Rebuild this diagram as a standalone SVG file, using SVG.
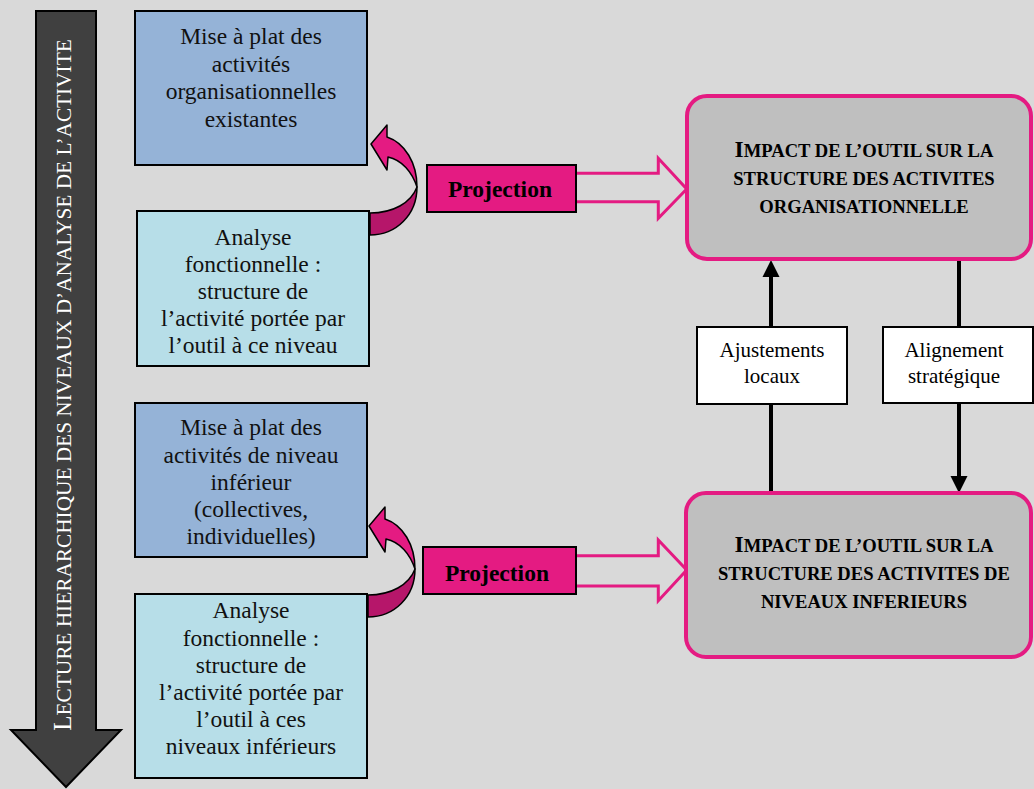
<svg xmlns="http://www.w3.org/2000/svg" width="1034" height="789" viewBox="0 0 1034 789" font-family="Liberation Serif, serif">
<defs>
<style>
.bg{fill:#D9D9D9}
.box{stroke:#000;stroke-width:2}
.blue{fill:#95B3D7}
.lblue{fill:#B7DEE8}
.t{font-size:23.5px;fill:#111;text-anchor:middle}
.proj{fill:#E41B82;stroke:#000;stroke-width:2}
.pt{font-size:23.5px;font-weight:bold;fill:#000;text-anchor:middle}
.hollow{fill:#D9D9D9;stroke:#E41B82;stroke-width:3;stroke-linejoin:miter}
.impact{fill:#BFBFBF;stroke:#E41B82;stroke-width:4}
.it{font-size:18.6px;font-weight:bold;fill:#000;text-anchor:middle}
.big{font-size:23.5px}
.lab{fill:#fff;stroke:#000;stroke-width:2}
.lt{font-size:21px;fill:#000;text-anchor:middle}
.conn{stroke:#000;stroke-width:4;fill:none}
.light{fill:#E41B82;stroke:#000;stroke-width:1.5;stroke-linejoin:round}
.dark{fill:#B6166A;stroke:#000;stroke-width:1.5;stroke-linejoin:round}
</style>
<g id="uturn">
<path class="dark" d="M417,187 C417,215 396,235 370,235 L370,213 C393,213 411,203 417,187 Z"/>
<path class="light" d="M371,144 L387,125 L387,137 C405,143 417,163 417,187 C412,172 402,160 388,157 L387,170 Z"/>
</g>
</defs>
<rect class="bg" x="0" y="0" width="1034" height="789"/>

<g id="hierarchy-arrow">
<polygon points="36,11 96,11 96,730 121,730 66,787 11,730 36,730" fill="#404040" stroke="#000" stroke-width="2"/>
<text transform="translate(71,385) rotate(-90)" font-size="21.3" fill="#fff" text-anchor="middle"><tspan font-size="25">L</tspan>ECTURE HIERARCHIQUE DES NIVEAUX D’ANALYSE DE L’ACTIVITE</text>
</g>

<g id="connectors">
<use href="#uturn"/>
<use href="#uturn" transform="translate(-2,382)"/>
<polygon class="hollow" points="574,173.3 658.3,173.3 658.3,158.3 686.7,189 658.3,218.3 658.3,201.7 574,201.7"/>
<polygon class="hollow" points="574,555.7 658.3,555.7 658.3,540 686.7,570 658.3,600.7 658.3,586 574,586"/>
<line class="conn" x1="771" y1="493" x2="771" y2="274"/>
<polygon points="771,260 762.5,277 779.5,277" fill="#000"/>
<line class="conn" x1="959" y1="260" x2="959" y2="479"/>
<polygon points="959,493 950.5,476 967.5,476" fill="#000"/>
</g>

<g id="mise-a-plat-1">
<rect class="box blue" x="135" y="11" width="232" height="154"/>
<text class="t" x="251" y="44">Mise à plat des</text>
<text class="t" x="251" y="71.5">activités</text>
<text class="t" x="251" y="99">organisationnelles</text>
<text class="t" x="251" y="126.7">existantes</text>
</g>

<g id="analyse-1">
<rect class="box lblue" x="137" y="211" width="232" height="155"/>
<text class="t" x="253" y="245">Analyse</text>
<text class="t" x="253" y="272">fonctionnelle :</text>
<text class="t" x="253" y="299">structure de</text>
<text class="t" x="253" y="326">l’activité portée par</text>
<text class="t" x="253" y="353.3">l’outil à ce niveau</text>
</g>

<g id="mise-a-plat-2">
<rect class="box blue" x="135" y="403" width="232" height="154"/>
<text class="t" x="251" y="435">Mise à plat des</text>
<text class="t" x="251" y="462.7">activités de niveau</text>
<text class="t" x="251" y="490">inférieur</text>
<text class="t" x="251" y="516.7">(collectives,</text>
<text class="t" x="251" y="544">individuelles)</text>
</g>

<g id="analyse-2">
<rect class="box lblue" x="135" y="594" width="232" height="184"/>
<text class="t" x="251" y="618.3">Analyse</text>
<text class="t" x="251" y="646">fonctionnelle :</text>
<text class="t" x="251" y="673.3">structure de</text>
<text class="t" x="251" y="700">l’activité portée par</text>
<text class="t" x="251" y="727.3">l’outil à ces</text>
<text class="t" x="251" y="754">niveaux inférieurs</text>
</g>

<g id="projection-1">
<rect class="proj" x="427" y="165" width="149" height="47"/>
<text class="pt" x="500" y="197.3">Projection</text>
</g>

<g id="projection-2">
<rect class="proj" x="423" y="547" width="153" height="47"/>
<text class="pt" x="497" y="580.7">Projection</text>
</g>

<g id="impact-org">
<rect class="impact" x="687" y="96" width="344" height="163" rx="20" ry="20"/>
<text class="it" x="864" y="156.7"><tspan class="big">I</tspan>MPACT DE L’OUTIL SUR LA</text>
<text class="it" x="864" y="185">STRUCTURE DES ACTIVITES</text>
<text class="it" x="864" y="212.7">ORGANISATIONNELLE</text>
</g>

<g id="impact-inf">
<rect class="impact" x="686" y="493" width="345" height="164" rx="20" ry="20"/>
<text class="it" x="864" y="551.7"><tspan class="big">I</tspan>MPACT DE L’OUTIL SUR LA</text>
<text class="it" x="864" y="580">STRUCTURE DES ACTIVITES DE</text>
<text class="it" x="864" y="608.3">NIVEAUX INFERIEURS</text>
</g>

<g id="ajustements">
<rect class="lab" x="697" y="327" width="150" height="77"/>
<text class="lt" x="772" y="357">Ajustements</text>
<text class="lt" x="772" y="383">locaux</text>
</g>

<g id="alignement">
<rect class="lab" x="883" y="327" width="150" height="76"/>
<text class="lt" x="954" y="357">Alignement</text>
<text class="lt" x="954" y="383">stratégique</text>
</g>
</svg>
